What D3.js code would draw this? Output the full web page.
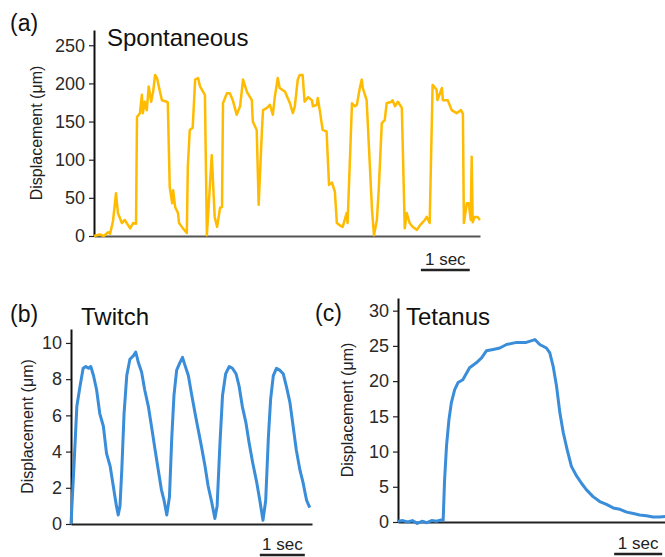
<!DOCTYPE html>
<html>
<head>
<meta charset="utf-8">
<script src="https://cdn.jsdelivr.net/npm/d3@7"></script>
<style>
body { margin: 0; background: #fff; }
svg text { font-family: "Liberation Sans", Arial, Helvetica, sans-serif; }
</style>
</head>
<body>
<div id="chart"></div>
<script>
//Data (time in sec, displacement in um)
var spontTime = [0,0.12,0.20,0.29,0.33,0.39,0.45,0.49,0.57,0.63,0.74,0.80,0.86,0.88,0.94,0.98,1.00,1.04,1.08,1.12,1.17,1.21,1.25,1.29,1.35,1.39,1.49,1.51,1.55,1.60,1.62,1.66,1.72,1.74,1.82,1.90,1.92,1.96,2.02,2.07,2.13,2.17,2.27,2.31,2.41,2.47,2.52,2.58,2.62,2.64,2.72,2.78,2.84,2.92,2.99,3.05,3.13,3.23,3.25,3.33,3.37,3.44,3.46,3.54,3.60,3.66,3.70,3.76,3.80,3.91,4.01,4.07,4.11,4.17,4.21,4.27,4.31,4.38,4.46,4.48,4.56,4.58,4.62,4.68,4.76,4.81,4.87,4.93,4.97,5.03,5.09,5.17,5.19,5.28,5.34,5.38,5.44,5.48,5.50,5.58,5.69,5.73,5.79,5.83,5.89,5.95,5.99,6.09,6.11,6.16,6.22,6.30,6.36,6.40,6.46,6.52,6.61,6.67,6.77,6.81,6.87,6.93,7.01,7.03,7.12,7.14,7.24,7.32,7.42,7.51,7.55,7.57,7.63,7.67,7.71,7.73,7.75,7.79,7.85,7.90];
var spontDisp = [0,2,0,5,3,20,56,30,17,21,10,17,16,156,161,185,161,176,165,196,176,189,211,207,189,178,176,175,64,43,60,38,30,17,10,4,91,139,142,205,207,196,185,1,106,25,12,37,38,174,187,187,178,159,170,205,189,178,150,139,41,143,165,168,172,159,182,207,194,189,174,161,170,205,211,211,176,182,178,170,172,181,165,139,137,67,70,58,17,14,12,30,17,174,170,172,194,205,194,178,34,1,21,64,148,152,174,176,178,170,176,168,10,30,17,12,8,14,21,25,17,198,192,178,194,178,178,165,161,165,160,17,43,43,21,104,18,25,25,21];

var twitchTime = [0,0.07,0.13,0.20,0.27,0.33,0.39,0.44,0.50,0.57,0.64,0.72,0.79,0.87,0.94,1.01,1.05,1.09,1.13,1.18,1.24,1.31,1.39,1.44,1.50,1.57,1.64,1.72,1.79,1.87,1.94,2.01,2.07,2.13,2.19,2.24,2.29,2.35,2.42,2.48,2.53,2.61,2.68,2.76,2.83,2.90,2.98,3.05,3.13,3.20,3.25,3.31,3.37,3.44,3.52,3.59,3.67,3.74,3.81,3.89,3.96,4.04,4.13,4.20,4.27,4.33,4.39,4.44,4.50,4.57,4.64,4.72,4.79,4.87,4.94,5.01,5.09,5.16,5.24,5.31];
var twitchDisp = [0,3.4,6.5,7.6,8.6,8.7,8.6,8.7,8.2,7.4,6.1,5.4,3.9,3.2,2.1,1.0,0.5,1.0,3.0,6.1,8.2,9.1,9.3,9.5,8.9,8.4,7.4,6.5,5.4,4.1,3.0,1.9,1.3,0.5,1.5,4.7,7.1,8.5,8.9,9.2,8.8,8.2,7.2,6.1,5.2,4.3,3.2,2.1,1.2,0.3,1.0,4.3,7.1,8.3,8.7,8.6,8.3,7.6,6.5,5.6,4.5,3.4,2.3,1.3,0.2,1.3,4.8,6.9,8.2,8.6,8.5,8.3,7.6,6.7,5.4,4.1,3.0,2.3,1.3,0.9];

var tetanusTime = [0,0.1,0.2,0.3,0.4,0.5,0.6,0.7,0.8,0.9,0.94,0.97,1.01,1.06,1.11,1.18,1.25,1.35,1.49,1.63,1.74,1.84,1.98,2.12,2.26,2.47,2.67,2.85,2.95,3.09,3.16,3.23,3.30,3.37,3.44,3.52,3.61,3.72,3.82,3.92,4.06,4.20,4.34,4.48,4.62,4.76,4.90,5.03,5.17,5.31,5.45,5.56];
var tetanusDisp = [0.1,0.2,0,0.2,-0.2,0.1,-0.1,0.2,0.1,0.3,0.2,6.0,10.8,14.5,16.9,18.8,19.8,20.2,21.9,22.6,23.3,24.3,24.5,24.7,25.2,25.5,25.5,25.9,25.2,24.7,24.0,22.1,19.3,15.5,12.7,10.3,7.9,6.5,5.5,4.6,3.6,2.9,2.5,2.0,1.8,1.4,1.2,1.0,0.9,0.7,0.7,0.8];

var spontTicks = [0, 50, 100, 150, 200, 250];
var twitchTicks = [0, 2, 4, 6, 8, 10];
var tetanusTicks = [0, 5, 10, 15, 20, 25, 30];

//Define SVG
var svg = d3.select("div#chart")
    .append("svg")
    .attr("width", 665)
    .attr("height", 557);

svg.append("rect").attr("width", 665).attr("height", 557).attr("fill", "#fff");

function drawPanel(p) {
    var xScale = d3.scaleLinear().domain([0, p.xMax]).range([p.left, p.right]);
    var yScale = d3.scaleLinear().domain([0, p.yMax]).range([p.bottom, p.top]);

    var g = svg.append("g");

    //x-axis (plain baseline, no ticks)
    var xAxis = d3.axisBottom(xScale).tickValues([]).tickSizeOuter(0);
    g.append("g")
        .attr("transform", "translate(0," + p.bottom + ")")
        .call(xAxis)
        .select(".domain")
        .attr("stroke", p.xAxisColor)
        .attr("stroke-width", 2);

    //y-axis
    var yAxis = d3.axisLeft(yScale).tickValues(p.ticks).tickSize(5).tickSizeOuter(0).tickPadding(4);
    var ya = g.append("g")
        .attr("transform", "translate(" + p.left + ",0)")
        .call(yAxis);
    ya.select(".domain").attr("stroke", "#111").attr("stroke-width", 2);
    ya.selectAll(".tick line").attr("stroke", "#222").attr("stroke-width", 1.2);
    ya.selectAll(".tick text")
        .attr("fill", "#2a2a2a")
        .attr("font-size", "18px")
        .style("font-family", "'Liberation Sans', Arial, sans-serif");

    //y label
    g.append("text")
        .attr("transform", "translate(" + p.labelX + "," + ((p.top + p.bottom) / 2) + ") rotate(-90)")
        .attr("dy", "0.35em")
        .attr("text-anchor", "middle")
        .attr("font-size", "16px")
        .attr("fill", "#222")
        .text("Displacement (\u03bcm)");

    //trace
    var line = d3.line()
        .x(function(d) { return xScale(d[0]); })
        .y(function(d) { return yScale(d[1]); });
    g.append("path")
        .datum(d3.zip(p.time, p.disp))
        .attr("fill", "none")
        .attr("stroke", p.color)
        .attr("stroke-width", p.lineWidth)
        .attr("stroke-linejoin", "round")
        .attr("d", line);

    //panel letter and title
    g.append("text")
        .attr("x", p.letterX).attr("y", p.letterY)
        .attr("font-size", "23px").attr("fill", "#111")
        .text(p.letter);
    g.append("text")
        .attr("x", p.titleX).attr("y", p.titleY)
        .attr("font-size", "24px").attr("fill", "#111")
        .text(p.title);

    //1 sec scale bar
    g.append("line")
        .attr("x1", xScale(p.barStart)).attr("x2", xScale(p.barStart + 1))
        .attr("y1", p.barY).attr("y2", p.barY)
        .attr("stroke", "#222").attr("stroke-width", 2.5);
    g.append("text")
        .attr("x", xScale(p.barStart + 0.5)).attr("y", p.barY - 5)
        .attr("text-anchor", "middle")
        .attr("font-size", "17px").attr("fill", "#222")
        .text("1 sec");
}

drawPanel({
    time: spontTime, disp: spontDisp, ticks: spontTicks,
    xMax: 7.9, yMax: 270,
    left: 94, right: 480, top: 30, bottom: 236,
    color: "#ffbb00", lineWidth: 2.5, xAxisColor: "#555",
    labelX: 36, letter: "(a)", letterX: 10, letterY: 31,
    title: "Spontaneous", titleX: 107, titleY: 46,
    barStart: 6.69, barY: 270
});

drawPanel({
    time: twitchTime, disp: twitchDisp, ticks: twitchTicks,
    xMax: 5.36, yMax: 10.77,
    left: 71, right: 312, top: 329, bottom: 524,
    color: "#3a8dd9", lineWidth: 3, xAxisColor: "#222",
    labelX: 27, letter: "(b)", letterX: 10, letterY: 322,
    title: "Twitch", titleX: 81, titleY: 325,
    barStart: 4.2, barY: 555
});

drawPanel({
    time: tetanusTime, disp: tetanusDisp, ticks: tetanusTicks,
    xMax: 5.6, yMax: 31.8,
    left: 398, right: 667, top: 298, bottom: 522,
    color: "#3a8dd9", lineWidth: 3, xAxisColor: "#222",
    labelX: 347, letter: "(c)", letterX: 315, letterY: 321,
    title: "Tetanus", titleX: 406, titleY: 325,
    barStart: 4.5, barY: 554
});
</script>
</body>
</html>
